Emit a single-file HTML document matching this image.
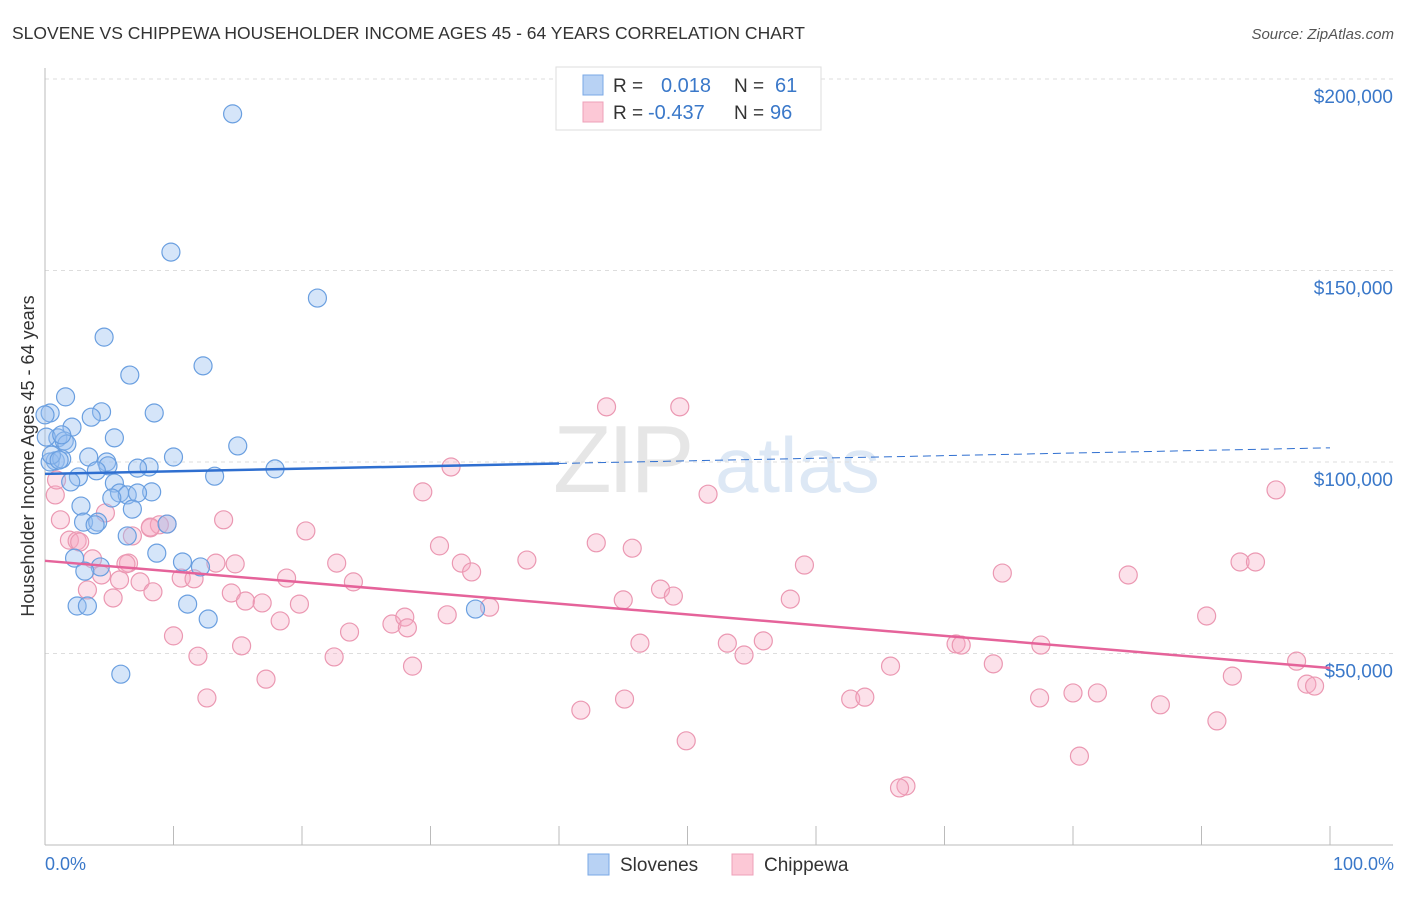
<!DOCTYPE html>
<html><head><meta charset="utf-8"><style>
body{margin:0;background:#fff;font-family:"Liberation Sans",sans-serif;}
svg text{font-family:"Liberation Sans",sans-serif;}
</style></head><body>
<svg id="chart" width="1406" height="892" xmlns="http://www.w3.org/2000/svg">
<text x="12" y="39" font-size="17.5" fill="#333">SLOVENE VS CHIPPEWA HOUSEHOLDER INCOME AGES 45 - 64 YEARS CORRELATION CHART</text>
<text x="1394" y="39" font-size="15" fill="#555" font-style="italic" text-anchor="end">Source: ZipAtlas.com</text>
<g>
<text x="553" y="492" font-size="96" fill="#e6e6e6" font-family="Liberation Serif" letter-spacing="-4">ZIP</text>
<text x="715" y="492" font-size="78" fill="#dde8f5">atlas</text>
</g>
<g id="grid"></g>
<g id="axes"></g>
<g id="pts"></g>
<g id="trend"></g>
<text transform="translate(34,456) rotate(-90)" font-size="18" fill="#333" text-anchor="middle">Householder Income Ages 45 - 64 years</text>
<text x="45" y="870" font-size="18" fill="#3a78c9">0.0%</text>
<text x="1394" y="870" font-size="18" fill="#3a78c9" text-anchor="end">100.0%</text>
<g>
<rect x="556" y="67" width="265" height="63" fill="#fff" stroke="#ddd"/>
<rect x="583" y="75" width="20" height="20" fill="#b8d2f4" stroke="#7aa8e6"/>
<rect x="583" y="102" width="20" height="20" fill="#fcc8d6" stroke="#eea0b8"/>
<text x="613" y="92" font-size="19" fill="#333">R =</text>
<text x="661" y="92" font-size="20" fill="#3a78c9">0.018</text>
<text x="734" y="92" font-size="19" fill="#333">N =</text>
<text x="775" y="92" font-size="20" fill="#3a78c9">61</text>
<text x="613" y="119" font-size="19" fill="#333">R =</text>
<text x="648" y="119" font-size="20" fill="#3a78c9">-0.437</text>
<text x="734" y="119" font-size="19" fill="#333">N =</text>
<text x="770" y="119" font-size="20" fill="#3a78c9">96</text>
</g>
<g>
<rect x="588" y="854" width="21" height="21" fill="#b8d2f4" stroke="#7aa8e6"/>
<text x="620" y="871" font-size="19" fill="#333">Slovenes</text>
<rect x="732" y="854" width="21" height="21" fill="#fcc8d6" stroke="#eea0b8"/>
<text x="764" y="871" font-size="19" fill="#333">Chippewa</text>
</g>
</svg>
<script>
const yTicks=[50000,100000,150000,200000];
const yTickLabels=["$50,000","$100,000","$150,000","$200,000"];
const xTicks=[10,20,30,40,50,60,70,80,90,100];
const slovenesX=[14.6,9.8,21.2,4.6,12.3,6.6,1.6,0.4,8.5,4.4,3.6,2.1,1.0,1.5,5.4,1.7,15.0,10.0,3.4,0.8,0.4,1.3,4.8,4.9,8.1,7.2,17.9,4.0,13.2,2.6,2.0,5.4,5.8,8.3,6.4,7.2,5.2,2.8,6.8,3.0,4.1,3.9,9.5,6.4,8.7,2.3,10.7,4.3,12.1,3.1,11.1,2.5,3.3,12.7,33.5,5.9,0.0,0.1,0.5,1.3,1.1];
const slovenesY=[190.9,154.8,142.8,132.6,125.1,122.7,117.0,112.8,112.8,113.1,111.7,109.1,106.3,105.5,106.3,104.7,104.2,101.3,101.3,100.3,100.0,100.8,100.0,99.0,98.7,98.4,98.2,97.7,96.3,96.1,94.8,94.5,91.9,92.2,91.4,91.9,90.6,88.5,87.7,84.3,84.3,83.6,83.8,80.7,76.2,74.9,73.9,72.6,72.6,71.5,62.9,62.4,62.4,59.0,61.6,44.6,112.3,106.5,101.8,107.1,100.5];
const chippewaX=[0.8,1.2,1.9,2.5,3.7,2.7,4.7,6.8,8.2,8.9,9.5,13.9,20.3,3.3,4.4,5.3,5.8,6.5,7.4,8.4,10.6,11.6,13.3,14.8,14.5,15.6,16.9,18.8,19.8,22.7,24.0,18.3,10.0,11.9,15.3,22.5,23.7,27.0,28.0,28.2,28.6,30.7,32.4,33.2,31.3,34.6,29.4,31.6,37.5,42.9,43.7,45.7,45.0,46.3,47.9,48.9,49.4,51.6,53.1,54.4,55.9,58.0,59.1,41.7,45.1,49.9,62.7,63.8,65.8,70.9,71.3,73.8,74.5,77.5,77.4,80.0,81.9,80.5,84.3,86.8,90.4,91.2,92.4,93.0,94.2,95.8,97.4,98.2,98.8,67.0,66.5,12.6,17.2,6.3,8.2,0.9];
const chippewaY=[91.4,84.9,79.6,79.4,74.7,79.1,86.7,80.7,82.8,83.6,83.8,84.9,82.0,66.6,70.5,64.5,69.2,73.6,68.7,66.1,69.7,69.5,73.6,73.4,65.8,63.7,63.2,69.7,62.9,73.6,68.7,58.5,54.6,49.3,52.0,49.1,55.6,57.7,59.5,56.7,46.7,78.1,73.6,71.3,60.1,62.1,92.2,98.7,74.4,78.9,114.4,77.5,64.0,52.7,66.8,65.0,114.4,91.6,52.7,49.6,53.3,64.2,73.1,35.2,38.1,27.2,38.1,38.6,46.7,52.5,52.2,47.3,71.0,52.2,38.4,39.7,39.7,23.2,70.5,36.6,59.8,32.4,44.1,73.9,73.9,92.7,48.0,42.0,41.5,15.4,14.9,38.4,43.3,73.4,83.0,95.3];
const slovenesTrend=[96.9,103.7];
const chippewaTrend=[74.2,46.2];
const solidUntil=40;

const NS="http://www.w3.org/2000/svg";
const X0=45,X1=1330,YB=845,PX50K=191.5;
const sx=v=>X0+(X1-X0)*v/100;
const sy=v=>YB-v/50000*PX50K;
const syk=v=>sy(v*1000);
function mk(tag,attrs,parent){const e=document.createElementNS(NS,tag);for(const k in attrs)e.setAttribute(k,attrs[k]);parent.appendChild(e);return e;}
const grid=document.getElementById('grid'),axes=document.getElementById('axes'),pts=document.getElementById('pts'),trend=document.getElementById('trend');
yTicks.forEach((t,i)=>{
 const l=mk('line',{x1:X0,x2:1393,y1:sy(t),y2:sy(t),stroke:'#ddd','stroke-dasharray':'4,4'},grid);
 
 
 const tx=mk('text',{x:1393,y:sy(t)+24,'font-size':19,fill:'#3a78c9','text-anchor':'end'},grid);
 tx.textContent=yTickLabels[i];
 
 
});
const la=mk('line',{x1:X0,x2:X0,y1:68,y2:YB,stroke:'#bbb'},axes);


const lb=mk('line',{x1:X0,x2:1393,y1:YB,y2:YB,stroke:'#bbb'},axes);


xTicks.forEach(t=>{
 const tk=mk('line',{x1:sx(t),x2:sx(t),y1:826,y2:YB,stroke:'#bbb'},axes);
 
 
});
chippewaX.forEach((x,i)=>{
 const c=mk('circle',{cx:sx(x),cy:syk(chippewaY[i]),r:9,fill:'rgba(246,170,195,0.35)',stroke:'#eb98b2','stroke-width':1.2},pts);
 
 
});
slovenesX.forEach((x,i)=>{
 const c=mk('circle',{cx:sx(x),cy:syk(slovenesY[i]),r:9,fill:'rgba(150,190,240,0.4)',stroke:'#6a9fe0','stroke-width':1.2},pts);
 
 
});
const bAt=x=>slovenesTrend[0]+(slovenesTrend[1]-slovenesTrend[0])*x/100;
const t1=mk('line',{x1:sx(0),y1:syk(bAt(0)),x2:sx(solidUntil),y2:syk(bAt(solidUntil)),stroke:'#2f6fd0','stroke-width':2.5},trend);


const t2=mk('line',{x1:sx(solidUntil),y1:syk(bAt(solidUntil)),x2:sx(100),y2:syk(bAt(100)),stroke:'#2f6fd0','stroke-width':1,'stroke-dasharray':'8,5'},trend);


const t3=mk('line',{x1:sx(0),y1:syk(chippewaTrend[0]),x2:sx(100),y2:syk(chippewaTrend[1]),stroke:'#e5639a','stroke-width':2.5},trend);


</script>
</body></html>
